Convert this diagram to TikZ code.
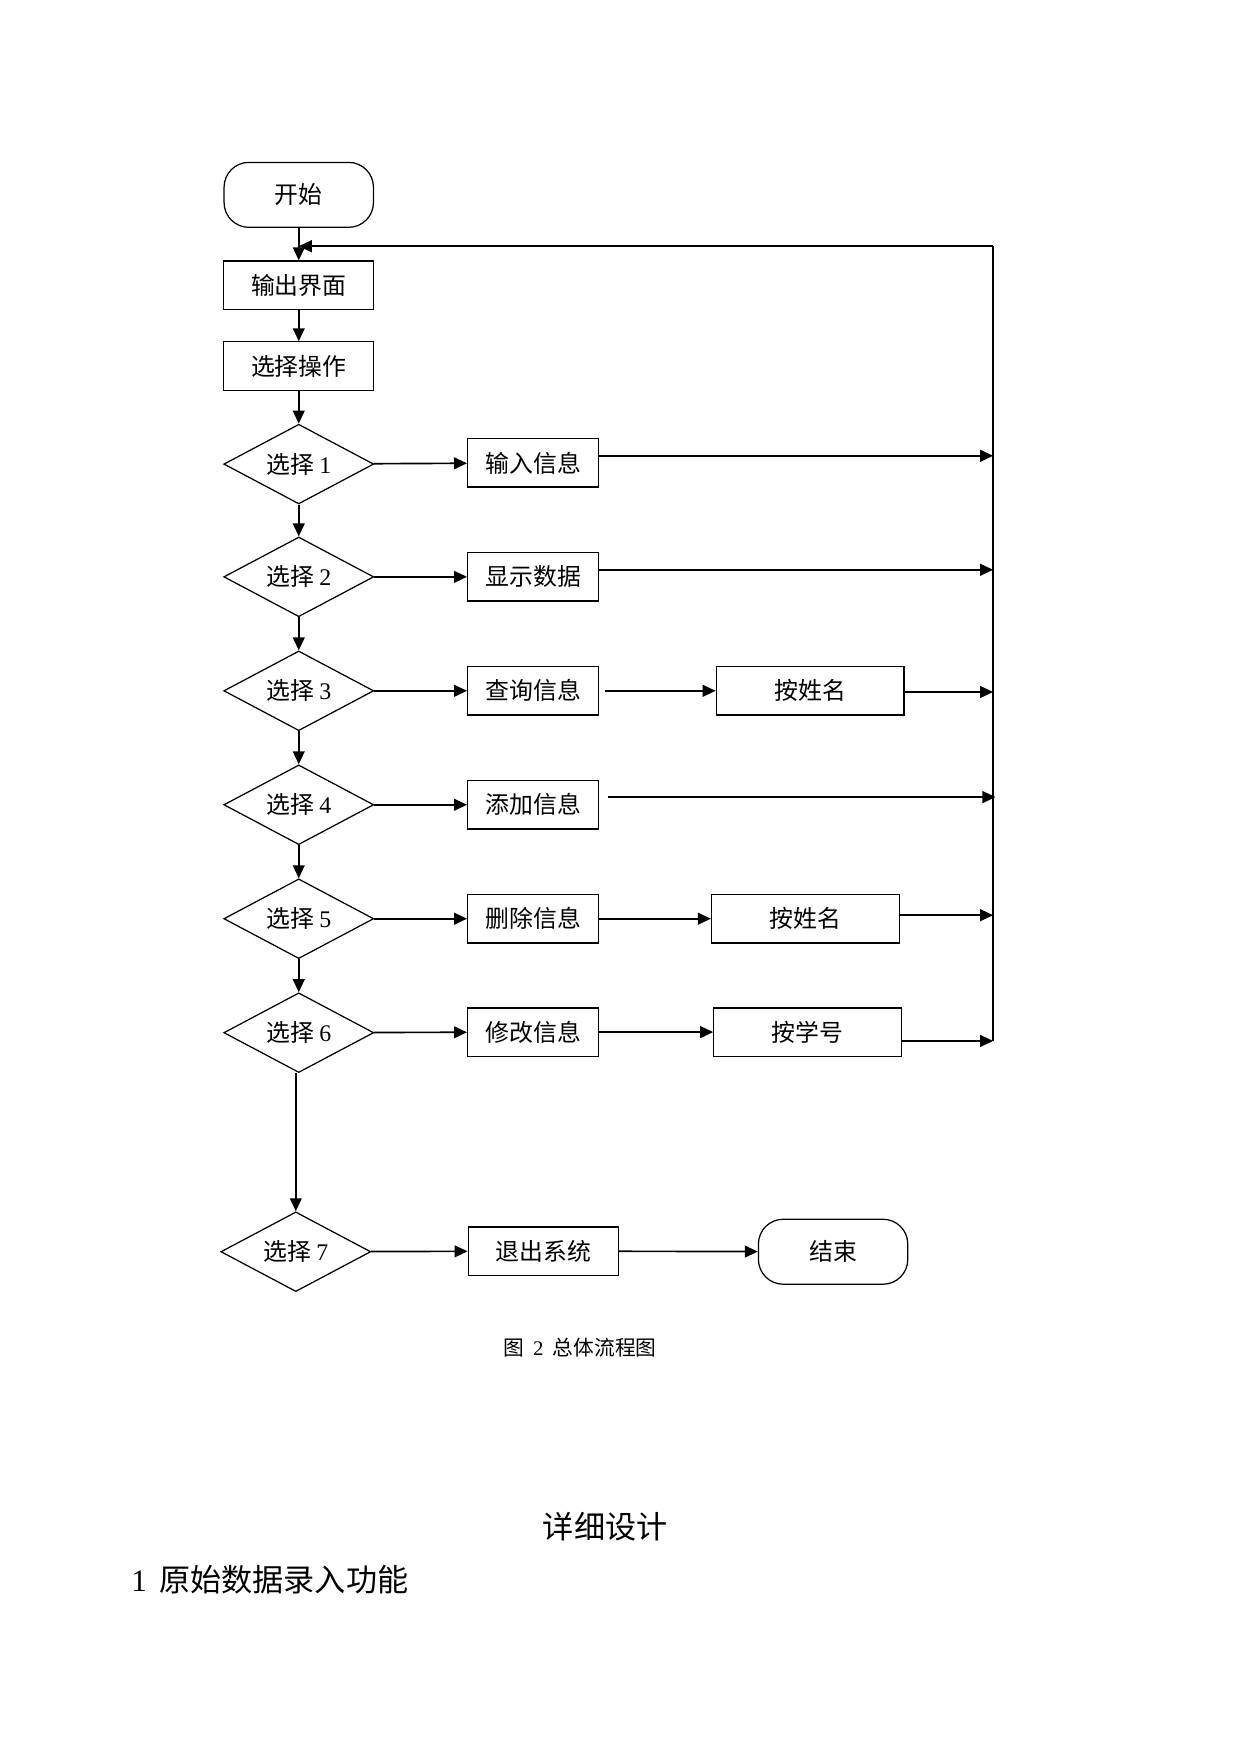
\documentclass[tikz,border=0pt]{standalone}
\usepackage{fontspec}
\setmainfont{Liberation Serif}
\newfontfamily\cjk{Noto Sans CJK SC}
\usetikzlibrary{shapes.geometric,arrows.meta}

\begin{document}
\begin{tikzpicture}[
    box/.style={draw, semithick, minimum width=2.54cm, minimum height=0.82cm, align=center, font=\cjk\fontsize{11.5}{14}\selectfont},
    sub/.style={box, minimum width=2.22cm},
    key/.style={box, minimum width=3.18cm},
    term/.style={box, rounded corners=0.42cm, minimum width=2.53cm, minimum height=1.1cm},
    choice/.style={box, diamond, aspect=2, inner sep=0pt, minimum width=2.54cm, minimum height=1.35cm},
    flow/.style={-{Triangle[length=2.2mm,width=2mm]}, thick},
]
    \useasboundingbox (0,0) rectangle (21,-29.69);

    \node[term] (start) at (5.06,-3.30) {开始};
    \node[box] (ui) at (5.06,-4.83) {输出界面};
    \node[box] (menu) at (5.06,-6.20) {选择操作};

    \node[choice] (c1) at (5.06,-7.86) {选择 {\rmfamily 1}};
    \node[choice] (c2) at (5.06,-9.77) {选择 {\rmfamily 2}};
    \node[choice] (c3) at (5.06,-11.70) {选择 {\rmfamily 3}};
    \node[choice] (c4) at (5.06,-13.63) {选择 {\rmfamily 4}};
    \node[choice] (c5) at (5.06,-15.56) {选择 {\rmfamily 5}};
    \node[choice] (c6) at (5.06,-17.49) {选择 {\rmfamily 6}};
    \node[choice] (c7) at (5.01,-21.20) {选择 {\rmfamily 7}};

    \node[sub] (input) at (9.03,-7.84) {输入信息};
    \node[sub] (show) at (9.03,-9.77) {显示数据};
    \node[sub] (query) at (9.03,-11.70) {查询信息};
    \node[sub] (add) at (9.03,-13.63) {添加信息};
    \node[sub] (del) at (9.03,-15.56) {删除信息};
    \node[sub] (edit) at (9.03,-17.48) {修改信息};
    \node[box] (quit) at (9.20,-21.19) {退出系统};

    \node[key] (qname) at (13.72,-11.70) {按姓名};
    \node[key] (dname) at (13.64,-15.56) {按姓名};
    \node[key] (eno) at (13.68,-17.48) {按学号};
    \node[term] (end) at (14.11,-21.20) {结束};

    \coordinate (top) at (16.82,-4.17);
    \coordinate (b1) at (16.82,-7.72);
    \coordinate (b2) at (16.82,-9.65);
    \coordinate (b3) at (16.82,-11.72);
    \coordinate (b4) at (16.86,-13.50);
    \coordinate (b5) at (16.82,-15.50);
    \coordinate (b6) at (16.82,-17.63);

    \draw[flow] (start) -- (ui);
    \draw[flow] (ui) -- (menu);
    \draw[flow] (menu) -- (c1);
    \draw[flow] (c1) -- (c2);
    \draw[flow] (c2) -- (c3);
    \draw[flow] (c3) -- (c4);
    \draw[flow] (c4) -- (c5);
    \draw[flow] (c5) -- (c6);
    \draw[flow] (c6.south -| c7) -- (c7);

    \draw[flow] (c1) -- (input);
    \draw[flow] (c2) -- (show);
    \draw[flow] (c3) -- (query);
    \draw[flow] (c4) -- (add);
    \draw[flow] (c5) -- (del);
    \draw[flow] (c6) -- (edit);
    \draw[flow] (c7) -- (quit);

    \draw[flow] ([xshift=1mm]query.east) -- (qname);
    \draw[flow] (del) -- (dname);
    \draw[flow] (edit) -- (eno);
    \draw[flow] (quit) -- (end);

    \draw[flow] (b1 -| input.east) -- (b1);
    \draw[flow] (b2 -| show.east) -- (b2);
    \draw[flow] (b3 -| qname.east) -- (b3);
    \draw[flow] ([xshift=1.4mm]b4 -| add.east) -- (b4);
    \draw[flow] (b5 -| dname.east) -- (b5);
    \draw[flow] (b6 -| eno.east) -- (b6);

    \draw[thick] (b6) -- (top);
    \draw[flow] (top) -- (top -| ui.north);

    \node[font=\cjk\fontsize{10}{12}\selectfont] (cap) at (9.82,-22.83) {图\hspace{0.45em}{\rmfamily 2}\hspace{0.45em}总体流程图};
    \node[font=\cjk\fontsize{15}{18}\selectfont] (title) at (10.25,-25.86) {详细设计};
    \node[font=\cjk\fontsize{15}{18}\selectfont, anchor=west] (sec) at (2.10,-26.76) {{\rmfamily 1}\hspace{0.4em}原始数据录入功能};
\end{tikzpicture}
\end{document}
